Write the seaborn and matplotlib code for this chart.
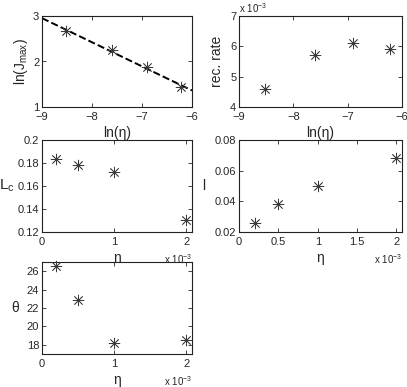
import numpy as np
import matplotlib
matplotlib.use("Agg")
import matplotlib.pyplot as plt
import seaborn as sns

# eta in units of 1e-3
eta = [0.2, 0.5, 1.0, 2.0]
ln_eta = [-8.517, -7.601, -6.908, -6.215]
ln_jmax = [2.66, 2.26, 1.87, 1.44]
rec_rate = [4.6, 5.7, 6.1, 5.9]      # x 1e-3
lc = [0.1835, 0.178, 0.1725, 0.1305]
ell = [0.026, 0.0385, 0.050, 0.068]
theta = [26.6, 22.9, 18.2, 18.5]

sns.set_style("ticks")
plt.rcParams["font.family"] = ["Liberation Sans", "DejaVu Sans"]
plt.rcParams["mathtext.fontset"] = "custom"
plt.rcParams["mathtext.rm"] = "Liberation Sans"
plt.rcParams["mathtext.it"] = "Liberation Sans"
plt.rcParams["xtick.direction"] = "in"
plt.rcParams["ytick.direction"] = "in"

fig = plt.figure(figsize=(4.07, 3.87), dpi=100)
W, H = 407, 387


def make_ax(x0, y0, x1, y1):
    return fig.add_axes([x0 / W, 1 - y1 / H, (x1 - x0) / W, (y1 - y0) / H])


def style(ax):
    for s in ax.spines.values():
        s.set_linewidth(0.8)
        s.set_color("#222222")
        s.set_visible(True)
    ax.tick_params(labelsize=8, length=3, width=0.6, top=True, right=True)
    ax.tick_params(axis="x", pad=3.5)
    ax.tick_params(axis="y", pad=2)


def stars(ax, x, y):
    sns.scatterplot(x=x, y=y, ax=ax, marker=(8, 2, 0), s=60, color="#3a3a3a",
                    linewidth=0.55, clip_on=False, zorder=3)


ax1 = make_ax(42, 16, 192, 107)
ax2 = make_ax(239, 16, 402, 107)
ax3 = make_ax(42, 140, 192, 232)
ax4 = make_ax(239, 140, 402, 232)
ax5 = make_ax(42, 262, 192, 354)

# ln(Jmax) vs ln(eta) with linear fit
coef = np.polyfit(ln_eta, ln_jmax, 1)
xf = np.array([-9, -6])
sns.lineplot(x=xf, y=np.polyval(coef, xf), ax=ax1, color="k", linewidth=1.4,
             dashes=(4, 2.5), linestyle="--")
stars(ax1, ln_eta, ln_jmax)
ax1.set_xlim(-9, -6)
ax1.set_ylim(1, 3)
ax1.set_xticks([-9, -8, -7, -6])
ax1.set_yticks([1, 2, 3])
ax1.set_xlabel("ln(η)", fontsize=10, labelpad=3)
ax1.set_ylabel("ln(J$_{max}$)", fontsize=10, labelpad=2)

stars(ax2, ln_eta, rec_rate)
ax2.set_xlim(-9, -6)
ax2.set_ylim(4, 7)
ax2.set_xticks([-9, -8, -7, -6])
ax2.set_yticks([4, 5, 6, 7])
ax2.set_xlabel("ln(η)", fontsize=10, labelpad=3)
ax2.set_ylabel("rec. rate", fontsize=10, labelpad=4)
ax2.text(0.0, 1.01, "x 10$^{-3}$", transform=ax2.transAxes, fontsize=7,
         ha="left", va="bottom")

stars(ax3, eta, lc)
ax3.set_xlim(0, 2.08)
ax3.set_ylim(0.12, 0.2)
ax3.set_xticks([0, 1, 2])
ax3.set_yticks([0.12, 0.14, 0.16, 0.18, 0.2])
ax3.set_yticklabels(["0.12", "0.14", "0.16", "0.18", "0.2"])
ax3.set_xlabel("η", fontsize=10, labelpad=3)
ax3.set_ylabel("L$_c$", fontsize=11, rotation=0, labelpad=8, va="center")

stars(ax4, eta, ell)
ax4.set_xlim(0, 2.07)
ax4.set_ylim(0.02, 0.08)
ax4.set_xticks([0, 0.5, 1, 1.5, 2])
ax4.set_xticklabels(["0", "0.5", "1", "1.5", "2"])
ax4.set_yticks([0.02, 0.04, 0.06, 0.08])
ax4.set_xlabel("η", fontsize=10, labelpad=3)
ax4.set_ylabel("l", fontsize=10, rotation=0, labelpad=8, va="center")

stars(ax5, eta, theta)
ax5.set_xlim(0, 2.08)
ax5.set_ylim(17, 27)
ax5.set_xticks([0, 1, 2])
ax5.set_yticks([18, 20, 22, 24, 26])
ax5.set_xlabel("η", fontsize=10, labelpad=3)
ax5.set_ylabel("θ", fontsize=10, rotation=0, labelpad=8, va="center")

for ax in (ax3, ax4, ax5):
    ax.text(1.0, -0.22, "x 10$^{-3}$", transform=ax.transAxes, fontsize=7,
            ha="right", va="top")

for ax in (ax1, ax2, ax3, ax4, ax5):
    style(ax)

fig.savefig("out.png", dpi=100)
